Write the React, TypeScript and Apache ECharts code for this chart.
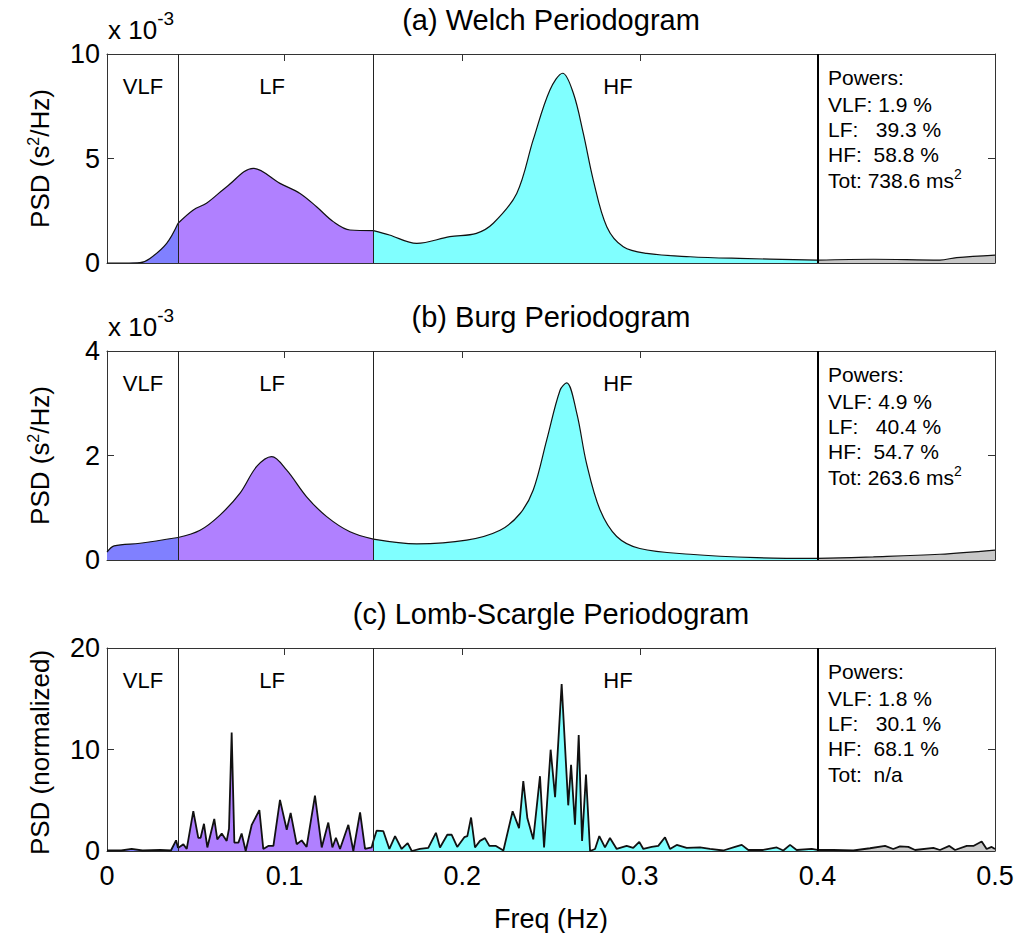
import React, { useEffect, useRef } from "react";
import * as echarts from "echarts";

// ---------- data ----------
const xTicks = [0, 0.1, 0.2, 0.3, 0.4, 0.5];
const bandEdges = [0, 0.04, 0.15, 0.4, 0.5];
const bandNames = ["VLF", "LF", "HF"];
const bandColors = ["#8080ff", "#b080ff", "#80ffff", "#c8c8c8"];

const titles = ["(a) Welch Periodogram", "(b) Burg Periodogram", "(c) Lomb-Scargle Periodogram"];
const yMax = [10, 4, 20];
const yInterval = [5, 2, 10];

const powersVLF = ["1.9", "4.9", "1.8"];
const powersLF = ["39.3", "40.4", "30.1"];
const powersHF = ["58.8", "54.7", "68.1"];
const powersTot = ["738.6", "263.6", "n/a"];

// Welch PSD, units of 1e-3 s^2/Hz
const welchFreq = [0, 0.01, 0.0186, 0.0242, 0.0336, 0.04, 0.0486, 0.056, 0.0674, 0.0824, 0.0974, 0.1087, 0.118, 0.1274, 0.1368, 0.15, 0.159, 0.1744, 0.193, 0.208, 0.2175, 0.2307, 0.24, 0.2494, 0.2566, 0.2626, 0.2682, 0.2738, 0.2814, 0.2907, 0.3039, 0.3283, 0.356, 0.4, 0.4315, 0.469, 0.4784, 0.5];
const welchPsd = [0, 0, 0.02, 0.22, 0.94, 1.9, 2.54, 2.86, 3.65, 4.53, 3.81, 3.33, 2.69, 1.98, 1.58, 1.55, 1.34, 0.94, 1.26, 1.42, 1.9, 3.33, 5.9, 8.28, 9.08, 8.12, 6.2, 3.97, 1.74, 0.78, 0.46, 0.3, 0.22, 0.14, 0.18, 0.14, 0.26, 0.38];

// Burg PSD, units of 1e-3 s^2/Hz
const burgFreq = [0, 0.004, 0.0186, 0.04, 0.0524, 0.0636, 0.0749, 0.0843, 0.0927, 0.1012, 0.1124, 0.1237, 0.1368, 0.15, 0.1744, 0.2025, 0.2213, 0.2326, 0.24, 0.2476, 0.2551, 0.2588, 0.2645, 0.27, 0.2776, 0.287, 0.3, 0.3283, 0.3658, 0.4, 0.4315, 0.469, 0.5];
const burgPsd = [0.15, 0.27, 0.32, 0.43, 0.57, 0.86, 1.28, 1.79, 1.98, 1.72, 1.21, 0.83, 0.54, 0.4, 0.31, 0.38, 0.57, 0.89, 1.34, 2.3, 3.25, 3.39, 2.81, 1.85, 0.96, 0.45, 0.22, 0.11, 0.045, 0.03, 0.06, 0.11, 0.19];

// Lomb-Scargle PSD (normalized)
const lombFreq = [0, 0.008, 0.0139, 0.02, 0.03, 0.036, 0.0389, 0.04, 0.043, 0.0449, 0.0486, 0.0514, 0.0527, 0.0546, 0.0565, 0.0604, 0.0621, 0.0646, 0.0674, 0.0687, 0.0702, 0.0717, 0.074, 0.0758, 0.0781, 0.0815, 0.0858, 0.088, 0.0908, 0.0937, 0.0974, 0.1012, 0.1034, 0.1068, 0.1096, 0.1124, 0.1171, 0.1209, 0.1246, 0.1269, 0.1289, 0.1312, 0.1359, 0.1387, 0.1425, 0.1453, 0.149, 0.15, 0.1518, 0.1556, 0.159, 0.1622, 0.1659, 0.1693, 0.1716, 0.1762, 0.1809, 0.1852, 0.1875, 0.1916, 0.1941, 0.1972, 0.2012, 0.2029, 0.205, 0.2072, 0.21, 0.2128, 0.2153, 0.219, 0.2232, 0.2284, 0.232, 0.2344, 0.2367, 0.24, 0.2438, 0.2461, 0.2498, 0.2523, 0.256, 0.2597, 0.2613, 0.2635, 0.2656, 0.2675, 0.2697, 0.272, 0.2748, 0.2772, 0.2804, 0.2832, 0.287, 0.2926, 0.2963, 0.2997, 0.302, 0.3067, 0.3104, 0.3142, 0.317, 0.3208, 0.3264, 0.3339, 0.3395, 0.347, 0.3536, 0.3574, 0.3611, 0.3695, 0.3771, 0.3808, 0.3846, 0.3883, 0.3968, 0.4, 0.409, 0.4202, 0.4296, 0.4381, 0.4427, 0.4465, 0.4512, 0.455, 0.4653, 0.469, 0.4743, 0.4775, 0.4841, 0.4878, 0.4925, 0.4953, 0.4981, 0.5];
const lombPsd = [0.05, 0.05, 0.2, 0.05, 0.1, 0.05, 1.05, 0.3, 0.67, 0.2, 3.92, 1.3, 1.3, 2.68, 0.35, 3.16, 1.15, 1.72, 0.99, 2.2, 11.67, 0.83, 0.83, 1.72, 0, 2.58, 4.02, 0.2, 0.5, 0.5, 5.04, 2.1, 3.76, 0.67, 1.05, 0.4, 5.45, 0.35, 2.8, 0.35, 1.3, 0.2, 2.58, 0, 3.8, 0.2, 0.35, 1.0, 2.0, 1.95, 0.2, 1.47, 0.2, 0.77, 0, 0.2, 0.3, 1.79, 0.35, 1.6, 1.6, 0.4, 1.36, 1.47, 3.3, 0.35, 1.0, 1.27, 0.5, 0.5, 0.05, 3.92, 2.26, 6.89, 3.22, 1.15, 7.37, 0.35, 9.98, 5.3, 16.46, 4.5, 8.49, 2.58, 11.42, 1.0, 7.53, 0, 0.2, 1.47, 0.35, 1.28, 0.2, 0.5, 0.3, 0.9, 0.2, 0.4, 0.5, 1.35, 0.2, 0.6, 0.3, 0.35, 0.2, 0.05, 0.4, 0.6, 0.1, 0.1, 0.35, 0.05, 0.6, 0.1, 0.2, 0.1, 0.1, 0.05, 0.27, 0.5, 0.2, 0.45, 0.4, 0.1, 0.3, 0.1, 0.5, 0.1, 0.5, 0.5, 0.93, 0.2, 0.4, 0.2];

const panels = [
  { freq: welchFreq, psd: welchPsd, smooth: 0.35, width: 1.2 },
  { freq: burgFreq, psd: burgPsd, smooth: 0.35, width: 1.2 },
  { freq: lombFreq, psd: lombPsd, smooth: false, width: 1.8 },
];

// ---------- layout ----------
const FONT = "'Liberation Sans', Arial, Helvetica, sans-serif";
const GL = 107;
const GW = 888;
const GH = 209;
const gridTops = [54, 351, 648];

export default function App() {
  const ref = useRef<HTMLDivElement>(null);

  useEffect(() => {
    if (!ref.current) return;
    const chart = echarts.init(ref.current, null, { renderer: "svg" });

    const grids: any[] = [];
    const xAxes: any[] = [];
    const yAxes: any[] = [];
    const series: any[] = [];
    const graphics: any[] = [];

    const axisLine = { show: true, onZero: false, lineStyle: { color: "#333", width: 1 } };
    const tick = { show: true, inside: true, length: 7, lineStyle: { color: "#333", width: 1 } };

    panels.forEach((p, i) => {
      const top = gridTops[i];
      grids.push({ left: GL, top, width: GW, height: GH, containLabel: false });
      xAxes.push({
        type: "value", gridIndex: i, min: 0, max: 0.5, interval: 0.1, position: "bottom",
        axisLine, axisTick: tick, splitLine: { show: false },
        axisLabel: {
          show: i === 2, fontSize: 27, color: "#000", margin: 11, fontFamily: FONT,
          formatter: (v: number) => (xTicks.indexOf(Math.round(v * 10) / 10) >= 0 ? (v === 0 ? "0" : v.toFixed(1)) : ""),
        },
        name: i === 2 ? "Freq (Hz)" : "",
        nameLocation: "middle", nameGap: 54,
        nameTextStyle: { fontSize: 27, color: "#000", fontFamily: FONT },
      });
      xAxes.push({
        type: "value", gridIndex: i, min: 0, max: 0.5, interval: 0.1, position: "top",
        axisLine, axisTick: tick, splitLine: { show: false }, axisLabel: { show: false },
      });
      yAxes.push({
        type: "value", gridIndex: i, min: 0, max: yMax[i], interval: yInterval[i], position: "left",
        axisLine, axisTick: tick, splitLine: { show: false },
        axisLabel: { fontSize: 27, color: "#000", margin: 7, fontFamily: FONT },
      });
      yAxes.push({
        type: "value", gridIndex: i, min: 0, max: yMax[i], interval: yInterval[i], position: "right",
        axisLine, axisTick: tick, splitLine: { show: false }, axisLabel: { show: false },
      });

      const pts = p.freq.map((f, k) => [f, p.psd[k]]);
      for (let b = 0; b < 4; b++) {
        const lo = bandEdges[b];
        const hi = bandEdges[b + 1];
        const s: any = {
          type: "line",
          xAxisIndex: 2 * i, yAxisIndex: 2 * i,
          data: pts.filter((d) => d[0] >= lo && d[0] <= hi),
          showSymbol: false, symbol: "none",
          smooth: p.smooth,
          lineStyle: { color: "#111", width: p.width },
          areaStyle: { color: bandColors[b], opacity: 1 },
          silent: true,
        };
        if (b === 3) {
          s.markLine = {
            silent: true, symbol: ["none", "none"], label: { show: false },
            lineStyle: { color: "#222", width: 1, type: "solid" },
            data: [
              { xAxis: bandEdges[1] },
              { xAxis: bandEdges[2] },
              { xAxis: bandEdges[3], lineStyle: { color: "#000", width: 2, type: "solid" } },
            ],
          };
        }
        series.push(s);
      }

      // title
      graphics.push({
        type: "text", x: GL + GW / 2, y: top - 34,
        style: { text: titles[i], font: `29px ${FONT}`, fill: "#000", textAlign: "center", textVerticalAlign: "middle" },
      });
      // y-axis title
      graphics.push({
        type: "text", x: 40, y: top + GH / 2, rotation: Math.PI / 2,
        style: {
          text: i === 2 ? "{a|PSD (normalized)}" : "{a|PSD (s}{s|2}{a|/Hz)}",
          textAlign: "center", textVerticalAlign: "middle",
          rich: {
            a: { fontSize: 26, fontFamily: FONT, fill: "#000", lineHeight: 30 },
            s: { fontSize: 16, fontFamily: FONT, fill: "#000", lineHeight: 30, verticalAlign: "top" },
          },
        },
      });
      // exponent
      if (i < 2) {
        graphics.push({
          type: "text", x: 108, y: top - 24,
          style: {
            text: "{a|x 10}{s|-3}", textAlign: "left", textVerticalAlign: "middle",
            rich: {
              a: { fontSize: 26, fontFamily: FONT, fill: "#000", lineHeight: 30 },
              s: { fontSize: 19, fontFamily: FONT, fill: "#000", lineHeight: 30, verticalAlign: "top", padding: [-6, 0, 0, 0] },
            },
          },
        });
      }
      // band labels
      const labelX = [143, 272, 618];
      bandNames.forEach((nm, k) => {
        graphics.push({
          type: "text", x: labelX[k], y: top + 32,
          style: { text: nm, font: `22px ${FONT}`, fill: "#000", textAlign: "center", textVerticalAlign: "middle" },
        });
      });
      // powers box
      const lines = [
        "Powers:",
        `VLF: ${powersVLF[i]} %`,
        `LF:   ${powersLF[i]} %`,
        `HF:  ${powersHF[i]} %`,
      ];
      const offs = [23, 50, 75, 100];
      lines.forEach((t, k) => {
        graphics.push({
          type: "text", x: 828, y: top + offs[k],
          style: { text: t, font: `21px ${FONT}`, fill: "#000", textAlign: "left", textVerticalAlign: "middle" },
        });
      });
      graphics.push({
        type: "text", x: 828, y: top + 126,
        style: {
          text: i === 2 ? `{a|Tot:  ${powersTot[i]}}` : `{a|Tot: ${powersTot[i]} ms}{s|2}`,
          textAlign: "left", textVerticalAlign: "middle",
          rich: {
            a: { fontSize: 21, fontFamily: FONT, fill: "#000", lineHeight: 26 },
            s: { fontSize: 14, fontFamily: FONT, fill: "#000", lineHeight: 26, verticalAlign: "top" },
          },
        },
      });
    });

    chart.setOption({
      animation: false,
      backgroundColor: "#fff",
      textStyle: { fontFamily: FONT },
      grid: grids,
      xAxis: xAxes,
      yAxis: yAxes,
      series,
      graphic: graphics,
    });

    return () => chart.dispose();
  }, []);

  return (
    <div
      ref={ref}
      style={{ position: "absolute", left: 0, top: 0, width: 1029, height: 933, background: "#fff" }}
    />
  );
}
